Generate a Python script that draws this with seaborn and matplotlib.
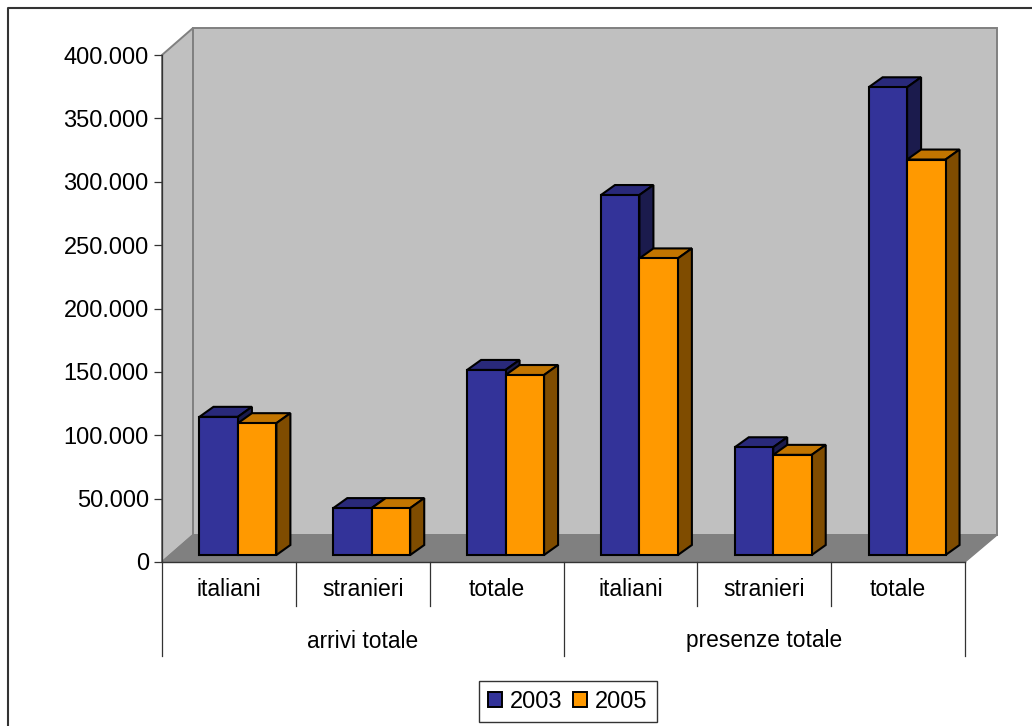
import numpy as np
import pandas as pd
import matplotlib
matplotlib.use('Agg')
import matplotlib.pyplot as plt
import matplotlib.transforms as mtrans
from matplotlib.patches import Polygon, Patch
import seaborn as sns

gruppi = ['arrivi totale', 'presenze totale']
categorie = ['italiani', 'stranieri', 'totale', 'italiani ', 'stranieri ', 'totale ']
etichette = ['italiani', 'stranieri', 'totale', 'italiani', 'stranieri', 'totale']
valori_2003 = [109000, 37000, 146000, 284000, 85000, 369000]
valori_2005 = [104000, 37000, 142000, 234000, 79000, 312000]
anni = ['2003', '2005']
colori = ['#333399', '#FF9900']
colori_top = ['#29297A', '#C27500']
colori_lato = ['#1B1B4D', '#7F4C00']

W, H = 1032, 726
plt.rcParams['font.family'] = ['Liberation Sans', 'DejaVu Sans']

df = pd.DataFrame({
    'categoria': categorie * 2,
    'valore': valori_2003 + valori_2005,
    'anno': ['2003'] * 6 + ['2005'] * 6,
})

fig = plt.figure(figsize=(W / 100, H / 100), dpi=100)

# sfondo in coordinate pixel
bg = fig.add_axes([0, 0, 1, 1], zorder=0)
bg.set_xlim(0, W)
bg.set_ylim(H, 0)
bg.axis('off')
bg.plot([8, 8, W], [H, 7.5, 7.5], color='#333333', lw=1.5, clip_on=False)
bg.add_patch(Polygon([(162, 55), (193, 28), (193, 535), (162, 562)], fc='#C0C0C0', ec='#808080', lw=1.4))
bg.add_patch(Polygon([(193, 28), (997, 28), (997, 535), (193, 535)], fc='#C0C0C0', ec='#808080', lw=1.4))
bg.add_patch(Polygon([(162, 562), (193, 535), (997, 535), (965, 562)], fc='#808080', ec='#808080', lw=1.0))

# linee asse categorie multilivello
for x, fine in [(162, 656), (296, 606), (430, 606), (564, 656), (697, 606), (831, 606), (965, 656)]:
    bg.plot([x, x], [562, fine], color='#333333', lw=0.9)

ax = fig.add_axes([162 / W, 1 - 562 / H, (965 - 162) / W, (562 - 55) / H], zorder=1)
ax.patch.set_alpha(0)
sns.barplot(data=df, x='categoria', y='valore', hue='anno', palette=colori, width=0.575,
            saturation=1, gap=0, legend=False, ax=ax)
ax.set_xlim(-0.5, 5.5)
ax.set_ylim(0, 400000)
ax.set_xlabel('')
ax.set_ylabel('')
ax.set_xticks([])
ax.set_yticks(np.arange(0, 400001, 50000))
ax.set_yticklabels([f'{v:,}'.replace(',', '.') for v in np.arange(0, 400001, 50000)], fontsize=17)
ax.tick_params(axis='y', length=6, width=0.9, pad=3.5, color='#333333')
for lato in ['top', 'right']:
    ax.spines[lato].set_visible(False)
ax.spines['left'].set_linewidth(0.9)
ax.spines['left'].set_color('#333333')
ax.spines['bottom'].set_linewidth(1.0)
ax.spines['bottom'].set_color('#333333')

# barre spostate nel piano di profondita, con facce superiore e laterale
dx, dy = 14, 10
base = ax.transData + mtrans.Affine2D().translate(9, 7)
barre = [p for p in ax.patches if p.get_height() > 0]
for i, b in enumerate(barre):
    serie = i // 6
    b.set_transform(base)
    b.set_edgecolor('black')
    b.set_linewidth(1.5)
    b.set_zorder(5 + (i % 6) * 2 + serie * 0.5)
    x0, x1 = b.get_x(), b.get_x() + b.get_width()
    y1 = b.get_height()
    (ax0, ay0), (ax1, ay1) = base.transform([(x0, 0), (x1, y1)])
    top = [(ax0, ay1), (ax1, ay1), (ax1 + dx, ay1 + dy), (ax0 + dx, ay1 + dy)]
    lato = [(ax1, ay0), (ax1, ay1), (ax1 + dx, ay1 + dy), (ax1 + dx, ay0 + dy)]
    z = b.get_zorder() - 0.1
    ax.add_patch(Polygon(top, transform=None, fc=colori_top[serie], ec='black', lw=1.5, zorder=z, clip_on=False))
    ax.add_patch(Polygon(lato, transform=None, fc=colori_lato[serie], ec='black', lw=1.5, zorder=z, clip_on=False))

# etichette categorie
for i, nome in enumerate(etichette):
    bg.text(162 + (i + 0.5) * (965 - 162) / 6, 589.5, nome, ha='center', va='center', fontsize=16.6)
for i, nome in enumerate(gruppi):
    bg.text(162 + (i + 0.5) * (965 - 162) / 2, 641, nome, ha='center', va='center', fontsize=16.4)

maniglie = [Patch(fc=colori[0], ec='black', lw=1.4, label=anni[0]), Patch(fc=colori[1], ec='black', lw=1.4, label=anni[1])]
leg = fig.legend(handles=maniglie, loc='center', bbox_to_anchor=(568 / W, 1 - 701.5 / H), ncol=2,
                 fontsize=17, frameon=True, fancybox=False, edgecolor='#333333', framealpha=1,
                 handlelength=0.6, handleheight=0.6, handletextpad=0.33, columnspacing=0.45,
                 borderpad=0.4, borderaxespad=0)
leg.get_frame().set_linewidth(1.0)

fig.savefig('out.png', dpi=100)
